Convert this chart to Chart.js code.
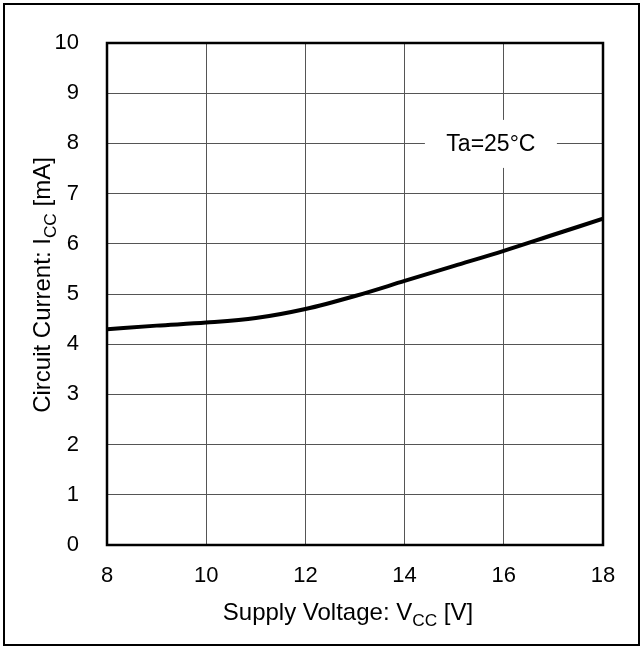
<!DOCTYPE html>
<html>
<head>
<meta charset="utf-8">
<script src="https://cdn.jsdelivr.net/npm/chart.js@4"></script>
<style>
  body { margin: 0; background: #fff; }
  #wrap { width: 644px; height: 650px; }
</style>
</head>
<body>
<div id="wrap"><canvas id="iccChart" width="644" height="650"></canvas></div>
<script>
// Supply voltage (V) and circuit current (mA)
const vccValues = [8, 9, 10, 11, 12, 13, 14, 15, 16, 17, 18];
const iccValues = [4.30, 4.37, 4.43, 4.52, 4.70, 4.96, 5.26, 5.56, 5.86, 6.18, 6.50];
const xTicks = [8, 10, 12, 14, 16, 18];
const yTicks = [0, 1, 2, 3, 4, 5, 6, 7, 8, 9, 10];
const noteText = 'Ta=25°C';
const notePos = { x: 15.74, y: 7.97 };

const FONT = '"Liberation Sans", Arial, sans-serif';

// draw a label made of pieces, some of them subscript
function drawParts(ctx, parts, size) {
    let total = 0;
    parts.forEach(p => {
        ctx.font = (p.sub ? size * 0.72 : size) + 'px ' + FONT;
        p.w = ctx.measureText(p.t).width;
        total += p.w;
    });
    let x = -total / 2;
    parts.forEach(p => {
        ctx.font = (p.sub ? size * 0.72 : size) + 'px ' + FONT;
        ctx.fillText(p.t, x, p.sub ? size * 0.25 : 0);
        x += p.w;
    });
}

const extras = {
    id: 'extras',
    beforeDatasetsDraw(chart) {
        const { ctx, scales } = chart;
        const cx = scales.x.getPixelForValue(notePos.x);
        const cy = scales.y.getPixelForValue(notePos.y);
        ctx.save();
        ctx.fillStyle = '#fff';
        ctx.fillRect(cx - 66, cy - 25, 132, 48);
        ctx.fillStyle = '#000';
        ctx.font = '23px ' + FONT;
        ctx.textAlign = 'center';
        ctx.textBaseline = 'middle';
        ctx.fillText(noteText, cx, cy);
        ctx.restore();
    },
    afterDraw(chart) {
        const { ctx, chartArea: a } = chart;
        ctx.save();
        ctx.strokeStyle = '#000';
        ctx.lineWidth = 2.5;
        ctx.strokeRect(a.left, a.top, a.right - a.left, a.bottom - a.top);
        // outer frame
        ctx.lineWidth = 2;
        ctx.strokeRect(4, 4, 635, 641);

        ctx.fillStyle = '#000';
        ctx.textBaseline = 'alphabetic';
        // x title
        ctx.save();
        ctx.translate(348, 620);
        drawParts(ctx, [{ t: 'Supply Voltage: V' }, { t: 'CC', sub: true }, { t: ' [V]' }], 24);
        ctx.restore();
        // y title
        ctx.save();
        ctx.translate(50, 285);
        ctx.rotate(-Math.PI / 2);
        drawParts(ctx, [{ t: 'Circuit Current: I' }, { t: 'CC', sub: true }, { t: ' [mA]' }], 24);
        ctx.restore();
        ctx.restore();
    }
};

const ctx = document.getElementById('iccChart').getContext('2d');
new Chart(ctx, {
    type: 'line',
    data: {
        datasets: [{
            data: vccValues.map((v, i) => ({ x: v, y: iccValues[i] })),
            borderColor: '#000',
            borderWidth: 4,
            pointRadius: 0,
            cubicInterpolationMode: 'monotone',
            fill: false
        }]
    },
    options: {
        responsive: false,
        animation: false,
        layout: { padding: { left: 0, right: 41, top: 43, bottom: 0 } },
        plugins: { legend: { display: false }, tooltip: { enabled: false } },
        scales: {
            x: {
                type: 'linear',
                min: 8, max: 18,
                afterFit(s) { s.height = 105; },
                afterBuildTicks(s) { s.ticks = xTicks.map(v => ({ value: v })); },
                grid: { color: '#555', lineWidth: 1, drawTicks: false },
                border: { display: false },
                ticks: { color: '#000', padding: 18, font: { size: 22, family: FONT } }
            },
            y: {
                min: 0, max: 10,
                afterFit(s) { s.width = 107; },
                afterBuildTicks(s) { s.ticks = yTicks.map(v => ({ value: v })); },
                grid: { color: '#555', lineWidth: 1, drawTicks: false },
                border: { display: false },
                ticks: { color: '#000', padding: 28, font: { size: 22, family: FONT } }
            }
        }
    },
    plugins: [extras]
});
</script>
</body>
</html>
